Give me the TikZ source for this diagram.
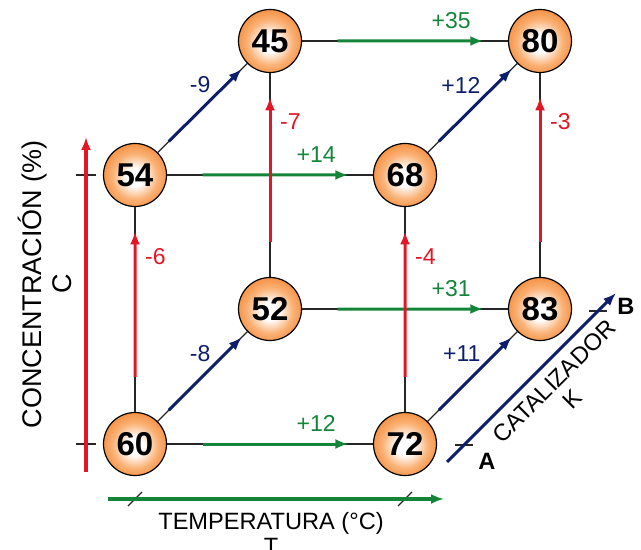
\documentclass[tikz,border=0pt]{standalone}
\usepackage{fontspec}
\setmainfont{Liberation Sans}
\usetikzlibrary{arrows.meta,calc}
\definecolor{ballorange}{RGB}{243,122,34}
\definecolor{balllight}{RGB}{250,178,118}
\definecolor{tgreen}{RGB}{20,132,56}
\definecolor{cred}{RGB}{226,22,38}
\definecolor{knavy}{RGB}{14,30,106}
\pgfdeclareradialshading{ballshade}{\pgfpoint{0bp}{-2bp}}{color(0bp)=(white); color(7bp)=(white); color(18bp)=(balllight); color(32bp)=(ballorange); color(50bp)=(ballorange)}
\begin{document}
\begin{tikzpicture}[x=0.5pt,y=-0.5pt,>={Latex[length=6.5pt,width=5pt]},
    ball/.style={circle,draw,line width=0.6pt,minimum size=31.5pt,inner sep=0pt,
      shading=ballshade,font=\fontsize{16.5}{17}\selectfont\bfseries},
    link/.style={black!85,line width=0.65pt},
    tarrow/.style={tgreen,line width=1.5pt,->},
    carrow/.style={cred,line width=1.5pt,->},
    karrow/.style={knavy,line width=1.5pt,->},
    val/.style={font=\fontsize{11.5}{13}\selectfont},
    axlabel/.style={font=\fontsize{11.8}{12.5}\selectfont,align=center},
    endlabel/.style={font=\fontsize{11.8}{13}\selectfont\bfseries}]
    \useasboundingbox (0,0) rectangle (641,550);
    % the eight corners of the cube
    \node [ball] (n60) at (135,444) {60};
    \node [ball] (n72) at (405,444) {72};
    \node [ball] (n54) at (135,175) {54};
    \node [ball] (n68) at (405,175) {68};
    \node [ball] (n52) at (270,309) {52};
    \node [ball] (n83) at (540,309) {83};
    \node [ball] (n45) at (270,41) {45};
    \node [ball] (n80) at (540,41) {80};
    % edges
    \foreach \a/\b in {n60/n72,n54/n68,n52/n83,n45/n80,n60/n54,n72/n68,
        n52/n45,n83/n80,n60/n52,n54/n45,n72/n83,n68/n80} {
      \draw [link] (\a) -- (\b) ;
    }
    \foreach \a/\b/\v in {n60/n72/+12,n54/n68/+14,n52/n83/+31,n45/n80/+35} {
      \draw [tarrow] ($(\a)!0.25!(\b)$) -- ($(\a)!0.79!(\b)$)
        node [val,tgreen,pos=0.78,above=2pt] {\v} ;
    }
    \foreach \a/\b/\v in {n60/n52/-8,n54/n45/-9,n72/n83/+11,n68/n80/+12} {
      \draw [karrow] ($(\a)!0.25!(\b)$) -- ($(\a)!0.79!(\b)$)
        node [val,knavy,pos=0.62,above left,inner sep=1pt] {\v} ;
    }
    \foreach \a/\b/\v in {n60/n54/-6,n72/n68/-4,n52/n45/-7,n83/n80/-3} {
      \draw [carrow] ($(\a)!0.25!(\b)$) -- ($(\a)!0.79!(\b)$)
        node [val,cred,pos=0.83,right=1pt] {\v} ;
    }
    % concentration axis
    \foreach \y in {175,444} {
      \draw [link] (76,\y) -- (96,\y) ;
    }
    \coordinate (c0) at (86,472) ;
    \coordinate (c1) at (86,137) ;
    \draw [carrow,line width=1.65pt] (c0) -- (c1) ;
    \node [axlabel,rotate=90,font=\fontsize{13.5}{15}\selectfont] (clab) at (45,284)
      {CONCENTRACIÓN (\%)\\C} ;
    % temperature axis
    \foreach \x in {135,405} {
      \draw [link] (\x-7,506) -- (\x+7,492) ;
    }
    \coordinate (t0) at (108,499) ;
    \coordinate (t1) at (444,499) ;
    \draw [tarrow,line width=1.6pt] (t0) -- (t1) ;
    \node [axlabel,anchor=base] (tlab) at (271,554) {TEMPERATURA (°C)\\T} ;
    % catalyst axis
    \draw [link] (455,445) -- (473,445) ;
    \draw [link] (589,311) -- (607,311) ;
    \coordinate (k0) at (447,462) ;
    \coordinate (k1) at (616,293) ;
    \draw [karrow] (k0) -- (k1) ;
    \node [endlabel] (ka) at (487,461) {A} ;
    \node [endlabel] (kb) at (626,306) {B} ;
    \node [axlabel,rotate=45] (klab) at (563,390) {CATALIZADOR\\K} ;
  \end{tikzpicture}
\end{document}
